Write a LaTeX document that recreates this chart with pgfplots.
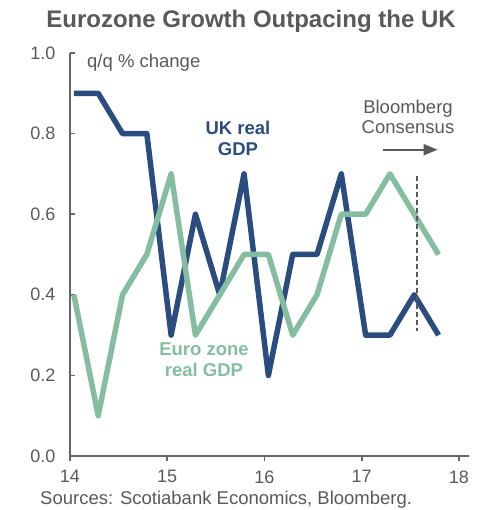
\documentclass[border=0pt]{standalone}
\usepackage{pgfplots}
\pgfplotsset{compat=1.18}
\usetikzlibrary{arrows.meta}
\usepackage{fontspec}
\setmainfont{Liberation Sans}
\definecolor{ukblue}{HTML}{2B4C7E}
\definecolor{eugreen}{HTML}{85BDA0}
\definecolor{txtgray}{HTML}{595959}
\definecolor{axgray}{HTML}{666666}
\begin{document}
\begin{tikzpicture}
\begin{axis}[
  scale only axis,
  width=398.7bp, height=403bp,
  xmin=14, xmax=18.1,
  ymin=0, ymax=1.0,
  axis x line=bottom, axis y line=left,
  axis line style={-, axgray, line width=2.2bp},
  xtick={14,15,16,17,18},
  ytick={0,0.2,0.4,0.6,0.8,1.0},
  yticklabel style={/pgf/number format/fixed, /pgf/number format/fixed zerofill,
    /pgf/number format/precision=1, xshift=-11bp},
  xticklabel style={yshift=-6bp},
  /pgf/number format/assume math mode=true,
  ticklabel style={font=\fontsize{18bp}{20bp}\selectfont, text=txtgray},
  major tick length=5bp,
  tick style={axgray, line width=1.8bp},
  xtick align=outside,
  ytick align=inside,
  clip=false,
]
\addplot[ukblue, line width=5.5bp, line join=round] coordinates {
  (14.04,0.9) (14.29,0.9) (14.54,0.8) (14.79,0.8)
  (15.04,0.3) (15.29,0.6) (15.54,0.4) (15.79,0.7)
  (16.04,0.2) (16.29,0.5) (16.54,0.5) (16.79,0.7)
  (17.04,0.3) (17.29,0.3) (17.54,0.4) (17.79,0.3)
};
\addplot[eugreen, line width=5.5bp, line join=round] coordinates {
  (14.04,0.4) (14.29,0.1) (14.54,0.4) (14.79,0.5)
  (15.04,0.7) (15.29,0.3) (15.54,0.4) (15.79,0.5)
  (16.04,0.5) (16.29,0.3) (16.54,0.4) (16.79,0.6)
  (17.04,0.6) (17.29,0.7) (17.54,0.6) (17.79,0.5)
};
\draw[txtgray, line width=2bp, dash pattern=on 5bp off 3bp] (axis cs:17.57,0.695) -- (axis cs:17.57,0.31);
\draw[txtgray, line width=2bp, -{Triangle[length=14bp,width=11bp]}] (axis cs:17.22,0.76) -- (axis cs:17.78,0.76);
\end{axis}
% annotations (bp relative to axis origin: px-70, 456-py)
\node[txtgray, font=\fontsize{24bp}{27bp}\selectfont\bfseries] at (181bp,435bp) {Eurozone Growth Outpacing the UK};
\node[txtgray, font=\fontsize{18.5bp}{21bp}\selectfont, anchor=west, inner sep=0pt] at (17bp,393bp) {q/q \% change};
\node[ukblue, font=\fontsize{18.5bp}{21bp}\selectfont\bfseries, align=center] at (168bp,318bp) {UK real\\GDP};
\node[eugreen, font=\fontsize{18.5bp}{21bp}\selectfont\bfseries, align=center] at (134bp,96bp) {Euro zone\\real GDP};
\node[txtgray, font=\fontsize{18.5bp}{20bp}\selectfont, align=center] at (338bp,339bp) {Bloomberg\\Consensus};
\node[txtgray, font=\fontsize{18.5bp}{21bp}\selectfont, anchor=west, inner sep=0pt] at (-30bp,-44bp) {Sources: Scotiabank Economics, Bloomberg.};
\path[use as bounding box] (-70bp,-54bp) rectangle (418bp,456bp);
\end{tikzpicture}
\end{document}
